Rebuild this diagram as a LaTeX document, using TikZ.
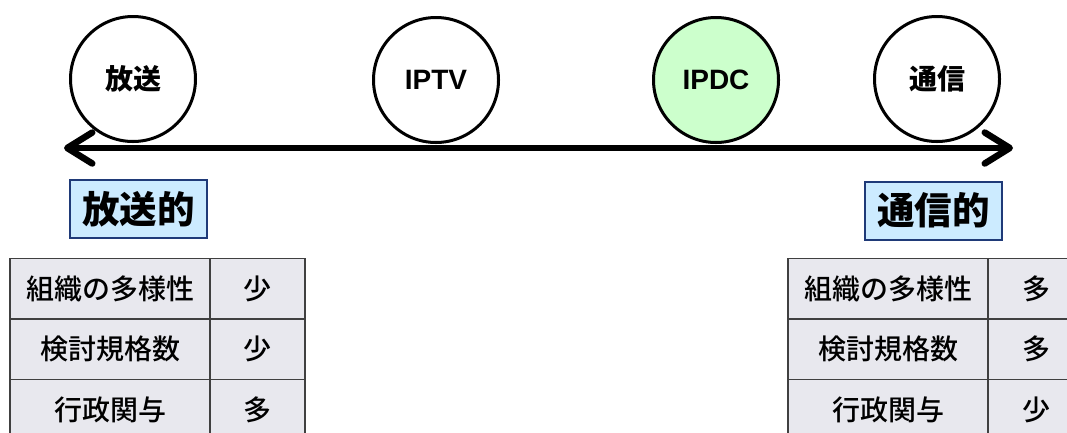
\documentclass[tikz,border=0pt]{standalone}
\usepackage{fontspec}
\setmainfont{Noto Sans CJK JP}
\newfontfamily\medfont{Noto Sans CJK JP Medium}
\newfontfamily\latinfont{Liberation Sans}
\usetikzlibrary{arrows.meta}
\definecolor{tagfill}{HTML}{CCEBFF}
\definecolor{tagline}{HTML}{1F3A78}
\definecolor{ipdcfill}{HTML}{CCFFCC}
\definecolor{cellfill}{HTML}{E8E8EE}
\definecolor{cellline}{HTML}{404040}
\tikzset{
  circ/.style={circle,draw=black,line width=3pt,minimum size=125pt,inner sep=0pt,
    font=\fontsize{28}{32}\selectfont\bfseries},
  tagbox/.style={draw=tagline,fill=tagfill,line width=2pt,minimum width=137pt,
    minimum height=58pt,inner sep=0pt,font=\fontsize{37.5}{40}\selectfont\bfseries},
  cellbox/.style={draw=cellline,fill=cellfill,line width=1.5pt,minimum height=60.5pt,
    inner sep=0pt,font=\fontsize{28}{32}\selectfont\medfont},
}
\begin{document}
\begin{tikzpicture}[x=1pt,y=-1pt]
        \useasboundingbox[fill=white] (0,0) rectangle (1067,432);
        % tables
        \foreach \lbl/\lv/\rv [count=\i] in {組織の多様性/少/多,検討規格数/少/多,行政関与/多/少}{
            \node[cellbox,minimum width=200pt] (lname\i) at (110,{288.5+60.5*(\i-1)}) {\lbl};
            \node[cellbox,minimum width=95pt] (lval\i) at (257.5,{288.5+60.5*(\i-1)}) {\lv};
            \node[cellbox,minimum width=200pt] (rname\i) at (888,{288.5+60.5*(\i-1)}) {\lbl};
            \node[cellbox,minimum width=96pt] (rval\i) at (1036,{288.5+60.5*(\i-1)}) {\rv};
        }
        \node[tagbox] (hoso) at (138.5,209) {放送的};
        \node[tagbox] (tsushin) at (933.5,210.5) {通信的};
        % circles
        \node[circ] (bc) at (133,79) {放送};
        \node[circ] (iptv) at (436,80) {\latinfont\bfseries IPTV};
        \node[circ,fill=ipdcfill] (ipdc) at (716,80) {\latinfont\bfseries IPDC};
        \node[circ] (tc) at (937,79) {通信};
        % axis
        \coordinate (lend) at (64,148);
        \coordinate (rend) at (1013,148);
        \draw[line width=6.5pt,{Straight Barb[length=25pt,width=31pt,line cap=round,line join=round]}-{Straight Barb[length=25pt,width=31pt,line cap=round,line join=round]}] (lend) -- (rend);
    \end{tikzpicture}
\end{document}
